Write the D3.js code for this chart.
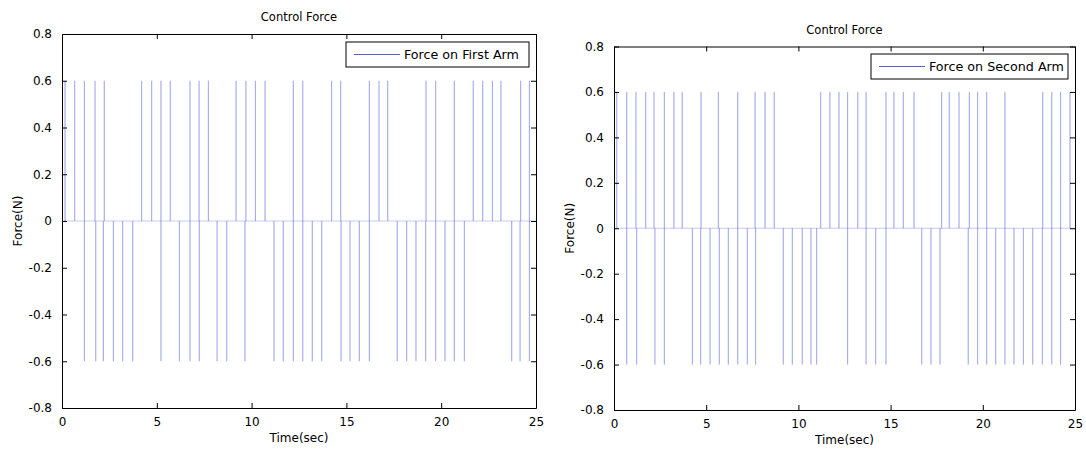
<!DOCTYPE html>
<meta charset="utf-8">
<script src="https://d3js.org/d3.v7.min.js"></script>
<style>
  body { margin: 0; background: #fff; }
  text { font-family: "DejaVu Sans", sans-serif; fill: #000; }
</style>
<div id="chart"></div>
<script>
  // axis ticks
  const timeTicks = [0, 5, 10, 15, 20, 25];
  const forceTicks = [-0.8, -0.6, -0.4, -0.2, 0, 0.2, 0.4, 0.6, 0.8];
  const amplitude = 0.6;

  // switching instants (sec)
  const firstArmUp = [0.16, 0.67, 1.18, 1.74, 2.23, 4.20, 4.73, 5.22, 5.71, 6.75, 7.23, 7.72, 9.18, 9.70, 10.20, 10.71,
    12.20, 12.70, 14.22, 14.70, 16.21, 16.72, 17.18, 19.20, 19.71, 20.69, 21.69, 22.19, 22.70, 23.15, 24.19, 24.65];
  const firstArmDown = [1.18, 1.78, 2.18, 2.71, 3.20, 3.73, 5.22, 6.19, 6.75, 7.24, 8.18, 8.69, 9.65, 11.18, 11.67, 12.20,
    12.70, 13.20, 13.70, 14.72, 15.19, 15.68, 16.21, 17.68, 18.18, 18.67, 19.18, 19.71, 20.20, 20.69, 21.22, 23.72, 24.16, 24.65];
  const secondArmUp = [0.15, 0.69, 1.19, 1.72, 2.17, 2.73, 3.25, 3.70, 4.72, 5.66, 6.71, 7.65, 8.19, 8.69, 11.21, 11.71,
    12.20, 12.67, 13.22, 13.67, 14.75, 15.18, 15.69, 16.27, 17.77, 18.18, 18.71, 19.27, 19.72, 20.21, 21.20, 23.25, 23.74, 24.22, 24.73];
  const secondArmDown = [0.69, 1.23, 2.22, 2.73, 4.25, 4.70, 5.21, 5.71, 6.20, 6.71, 7.23, 7.68, 9.18, 9.67, 10.21, 10.68,
    10.99, 12.67, 13.67, 14.19, 14.75, 16.69, 17.19, 17.68, 19.21, 19.72, 20.21, 20.70, 21.20, 21.69, 22.20, 22.71, 23.23, 23.74, 24.22];

  const svg = d3.select("#chart").append("svg")
    .attr("width", 1086)
    .attr("height", 450);

  const fmt = d => d === 0 ? "0" : d3.format(".1f")(d).replace("−", "-");

  function panel(p) {
    const x = d3.scaleLinear().domain([0, 25]).range([p.left, p.right]);
    const y = d3.scaleLinear().domain([-0.8, 0.8]).range([p.bottom, p.top]);
    const g = svg.append("g");

    // signal: zero with short pulses to +/-0.6
    const events = p.up.map(t => [t, amplitude]).concat(p.down.map(t => [t, -amplitude]))
      .sort((a, b) => a[0] - b[0]);
    const pts = [[0, 0]];
    events.forEach(e => { pts.push([e[0], 0], [e[0], e[1]], [e[0], 0]); });
    pts.push([25, 0]);
    g.append("path")
      .datum(pts)
      .attr("fill", "none")
      .attr("stroke", "#4650dc")
      .attr("stroke-opacity", 0.3)
      .attr("stroke-width", 1)
      .attr("d", d3.line().x(d => x(d[0])).y(d => y(d[1])));

    // axes, MATLAB style (ticks inside, box)
    const tickStyle = a => a.selectAll("text").style("font-size", "12px");
    g.append("g").attr("transform", `translate(0,${p.bottom})`)
      .call(d3.axisBottom(x).tickValues(timeTicks).tickSizeInner(-5).tickSizeOuter(0).tickPadding(9).tickFormat(d => d))
      .call(tickStyle);
    g.append("g").attr("transform", `translate(0,${p.top})`)
      .call(d3.axisTop(x).tickValues(timeTicks).tickSizeInner(-5).tickSizeOuter(0).tickFormat(""));
    g.append("g").attr("transform", `translate(${p.left},0)`)
      .call(d3.axisLeft(y).tickValues(forceTicks).tickSizeInner(-5).tickSizeOuter(0).tickPadding(10).tickFormat(fmt))
      .call(tickStyle);
    g.append("g").attr("transform", `translate(${p.right},0)`)
      .call(d3.axisRight(y).tickValues(forceTicks).tickSizeInner(-5).tickSizeOuter(0).tickFormat(""));
    g.selectAll(".domain").attr("stroke", "#000");
    g.selectAll(".tick line").attr("stroke", "#000");
    g.selectAll(".tick text").attr("fill", "#000");

    // labels
    const cx = (p.left + p.right) / 2, cy = (p.top + p.bottom) / 2;
    g.append("text").attr("x", cx).attr("y", p.top - 13)
      .attr("text-anchor", "middle").style("font-size", "11.5px").text("Control Force");
    g.append("text").attr("x", cx).attr("y", p.bottom + 34)
      .attr("text-anchor", "middle").style("font-size", "12px").text("Time(sec)");
    g.append("text").attr("transform", `translate(${p.left - 40},${cy}) rotate(-90)`)
      .attr("text-anchor", "middle").style("font-size", "12px").text("Force(N)");

    // legend
    const lg = g.append("g").attr("transform", `translate(${p.legend[0]},${p.legend[1]})`);
    lg.append("rect").attr("width", p.legend[2]).attr("height", 25)
      .attr("fill", "#fff").attr("stroke", "#000");
    lg.append("line").attr("x1", 8).attr("x2", 54).attr("y1", 12.5).attr("y2", 12.5)
      .attr("stroke", "#5a60d4").attr("stroke-width", 1);
    lg.append("text").attr("x", 58).attr("y", 17).style("font-size", "12.7px").text(p.name);
  }

  panel({left: 62, right: 536, top: 34, bottom: 408, up: firstArmUp, down: firstArmDown,
    name: "Force on First Arm", legend: [346, 42, 183]});
  panel({left: 614, right: 1075, top: 46.5, bottom: 410, up: secondArmUp, down: secondArmDown,
    name: "Force on Second Arm", legend: [871, 54, 197]});
</script>
